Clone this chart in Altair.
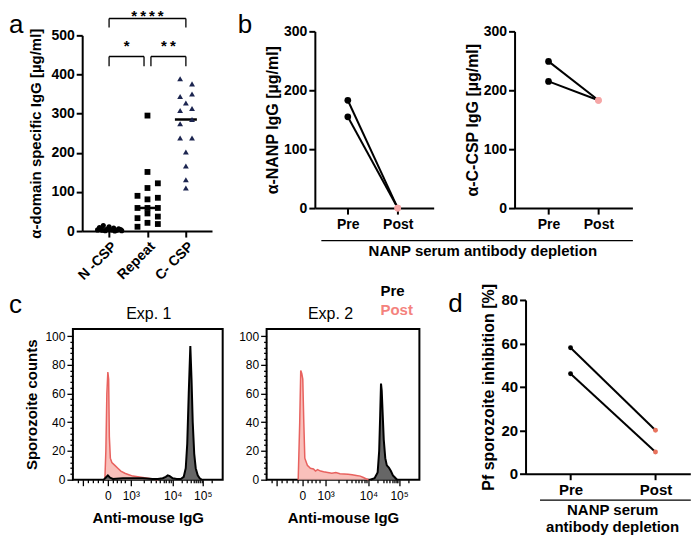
import math
import altair as alt
import pandas as pd

FONT = "Liberation Sans"

# ---------------- data ----------------
# panel a
a_categories = ["N -CSP", "Repeat", "C- CSP"]
ncsp_values = [14, 11, 9, 8, 6, 5, 4, 3, 3, 2, 2, 1, 1, 0]
ncsp_jitter = [-0.15, 0.0, -0.25, 0.12, 0.25, -0.05, 0.3, -0.3, 0.08, -0.18, 0.2, 0.33, -0.1, 0.15]
repeat_values = [295, 151, 122, 110, 90, 85, 81, 59, 59, 59, 45, 37, 33, 21, 18, 11]
repeat_jitter = [0, 0, 0.27, 0, -0.26, 0.27, 0, -0.26, 0, 0.27, 0, 0.27, -0.26, 0, 0.27, -0.26]
ccsp_values = [389, 376, 350, 344, 327, 313, 308, 285, 274, 238, 238, 202, 166, 131, 110]
ccsp_jitter = [-0.15, 0.16, 0.16, -0.15, 0, 0.16, -0.15, 0.16, -0.15, -0.15, 0.16, 0, 0, 0, 0]
sig_from = ["N -CSP", "Repeat", "N -CSP"]
sig_to = ["Repeat", "C- CSP", "C- CSP"]
sig_label = ["*", "**", "****"]

# panel b
stages = ["Pre", "Post"]
nanp_pre = [183, 155]
nanp_post = [0, 0]
cterm_pre = [249, 215]
cterm_post = [183, 183]

# panel c (x in display units of the biexponential axis)
c_tick_labels = ["0", "10³", "10⁴", "10⁵"]
c_tick_pos = [35, 58, 100, 130]
exp1_post_x = [32, 33, 34, 35, 35.8, 36.5, 37.5, 39, 42, 45, 48, 52, 56, 60, 65, 70, 75, 80, 85]
exp1_post_y = [0, 20, 60, 75, 70, 30, 15, 12, 10, 8, 6, 4.5, 3.5, 2.5, 2, 1.5, 1, 0.5, 0]
exp1_pre_x = [31, 33, 35, 37, 40, 50, 60, 70, 80, 85, 90, 93, 95, 97, 100, 104, 108, 111, 113,
              114.5, 116, 117.6, 118.8, 120, 121.5, 123, 125, 127, 129]
exp1_pre_y = [0, 1.5, 3, 1.5, 0.5, 1, 1, 1, 0.5, 0.5, 1, 2, 3, 2.5, 1, 0.5, 0.5, 2, 8,
              25, 60, 93, 70, 40, 18, 8, 3, 1, 0]
exp2_post_x = [31, 32.5, 33.5, 34.5, 35.5, 36.5, 37.5, 40, 43, 46, 48, 50, 53, 56, 60, 64, 68,
               72, 76, 80, 84, 88, 92, 95, 98, 100]
exp2_post_y = [0, 40, 76, 74, 70, 40, 15, 10, 8, 7.5, 6, 7, 6, 5.5, 5, 4.5, 5,
               4.2, 4, 3.8, 3.5, 3, 2.5, 1.5, 0.5, 0]
exp2_pre_x = [102, 106, 109, 110.5, 111.5, 112.3, 113, 114, 115, 116.5, 118, 120, 122, 124, 126, 128]
exp2_pre_y = [0, 1, 5, 20, 45, 67, 62, 45, 28, 15, 10, 8.5, 6, 3, 1.5, 0]

# panel d
inhib_pre = [58, 46]
inhib_post = [20, 10]


# ---------------- helpers ----------------
def note(text, x, y, size, weight="normal", color="black", align="left"):
    return alt.Chart(pd.DataFrame({"t": [text]})).mark_text(
        font=FONT, fontSize=size, fontWeight=weight, color=color, align=align,
        baseline="alphabetic").encode(x=alt.value(x), y=alt.value(y), text="t:N")


# ---------------- panel a ----------------
rows = []
for gi, (vals, jit) in enumerate([(ncsp_values, ncsp_jitter),
                                  (repeat_values, repeat_jitter),
                                  (ccsp_values, ccsp_jitter)]):
    for v, j in zip(vals, jit):
        rows.append({"group": a_categories[gi], "idx": gi, "pos": gi + j, "value": v})
pts = pd.DataFrame(rows)

BAR = [446, 543]
FOOT = [421, 520]
TXT = [459, 536]
GAP = 0.09
segs, texts = [], []
for f, t, lab in zip(sig_from, sig_to, sig_label):
    i0, i1 = a_categories.index(f), a_categories.index(t)
    lvl = 1 if i1 - i0 > 1 else 0
    x0 = i0 + (GAP if lvl == 0 and i0 == 1 else 0)
    x1 = i1 - (GAP if lvl == 0 and i1 == 1 else 0)
    segs += [(x0, x1, BAR[lvl], BAR[lvl]), (x0, x0, BAR[lvl], FOOT[lvl]), (x1, x1, BAR[lvl], FOOT[lvl])]
    texts.append(((x0 + x1) / 2, TXT[lvl], "\u2009".join(lab)))
seg_df = pd.DataFrame(segs, columns=["pos", "pos2", "value", "value2"])
txt_df = pd.DataFrame(texts, columns=["pos", "value", "label"])

a_xs = alt.Scale(domain=[-0.7, 2.68], range=[9.3, 139.3], nice=False, zero=False)
a_ys = alt.Scale(domain=[0, 500], range=[200, 4], nice=False)
lbl_a = "[" + ",".join("'" + c + "'" for c in a_categories) + "][datum.value]"
a_xaxis = alt.Axis(values=[0, 1, 2], labelExpr=lbl_a, labelAngle=-45, labelAlign="right",
                   labelBaseline="top", labelFontSize=14, labelFontWeight="bold", labelPadding=2,
                   labelOverlap=False, labelFlush=False, tickSize=6, tickWidth=2, domainWidth=2,
                   offset=23, title=None)
a_yaxis = alt.Axis(values=[0, 100, 200, 300, 400, 500], offset=-9.3, labelFontSize=14,
                   labelFontWeight="bold", labelPadding=2, tickSize=6, tickWidth=2, domainWidth=2,
                   titleFontSize=15, titleFontWeight="bold", titlePadding=7,
                   title="α-domain specific IgG [µg/ml]")

a_med = alt.Chart(pts).mark_tick(orient="horizontal", size=22, thickness=2.5, color="black").encode(
    x=alt.X("idx:Q", scale=a_xs, axis=a_xaxis),
    y=alt.Y("median(value):Q", scale=a_ys, axis=a_yaxis))


def a_layer(group, shape, size, color):
    return alt.Chart(pts).transform_filter(alt.datum.group == group).mark_point(
        shape=shape, size=size, filled=True, color=color, opacity=1).encode(
        x=alt.X("pos:Q", scale=a_xs, axis=a_xaxis), y=alt.Y("value:Q", scale=a_ys, axis=a_yaxis))


a_br = alt.Chart(seg_df).mark_rule(color="black", strokeWidth=1.3).encode(
    x=alt.X("pos:Q", scale=a_xs, axis=a_xaxis), x2="pos2:Q",
    y=alt.Y("value:Q", scale=a_ys, axis=a_yaxis), y2="value2:Q")
a_txt = alt.Chart(txt_df).mark_text(font=FONT, fontSize=15, fontWeight="bold", baseline="alphabetic").encode(
    x=alt.X("pos:Q", scale=a_xs, axis=a_xaxis), y=alt.Y("value:Q", scale=a_ys, axis=a_yaxis),
    text="label:N")

panel_a = alt.layer(
    a_med,
    a_layer(a_categories[0], "circle", 26, "black"),
    a_layer(a_categories[1], "square", 34, "black"),
    a_layer(a_categories[2], "triangle-up", 34, "#1c2550"),
    a_br, a_txt,
    note("a", -64, 2, 26),
).properties(width=150, height=177)

# ---------------- paired panels (b, d) ----------------
lbl_st = "[" + ",".join("'" + s + "'" for s in stages) + "][datum.value]"


def paired(pre, post, post_color, dot_size, ytitle, ydom, yvals, yrange, width, xdom, xrange,
           yoff, xoff, lab_fs, title_fs, tpad, aux_range, aux_offset, aux_title, aux_title_x,
           notes, height):
    r = []
    for s in range(len(pre)):
        r.append({"subject": s, "stage": 0, "value": pre[s]})
        r.append({"subject": s, "stage": 1, "value": post[s]})
    df = pd.DataFrame(r)
    xs = alt.Scale(domain=xdom, range=xrange, nice=False, zero=False)
    ys = alt.Scale(domain=ydom, range=yrange, nice=False)
    xax = alt.Axis(values=[0, 1], labelExpr=lbl_st, labelFontSize=lab_fs, labelFontWeight="bold",
                   labelPadding=3, tickSize=6, tickWidth=2, domainWidth=2, offset=xoff, title=None,
                   labelAngle=0)
    yax = alt.Axis(values=yvals, offset=yoff, labelFontSize=lab_fs, labelFontWeight="bold",
                   labelPadding=2, tickSize=6, tickWidth=2, domainWidth=2, titleFontSize=title_fs,
                   titleFontWeight="bold", titlePadding=tpad, title=ytitle)
    lines = alt.Chart(df).mark_line(color="black", strokeWidth=2).encode(
        x=alt.X("stage:Q", scale=xs, axis=xax), y=alt.Y("value:Q", scale=ys, axis=yax),
        detail="subject:N", order="stage:Q")
    dots = alt.Chart(df).mark_circle(size=dot_size, opacity=1).encode(
        x=alt.X("stage:Q", scale=xs, axis=xax), y=alt.Y("value:Q", scale=ys, axis=yax),
        color=alt.condition("datum.stage == 0", alt.value("black"), alt.value(post_color)))
    inner = alt.layer(lines, dots, *notes)
    if aux_title is None:
        return inner.properties(width=width, height=height)
    aux = alt.Chart(pd.DataFrame({"u": [0.5]})).mark_point(opacity=0, size=1).encode(
        x=alt.X("u:Q", scale=alt.Scale(domain=[0, 1], range=aux_range, nice=False, zero=False),
                axis=alt.Axis(orient="bottom", offset=aux_offset, ticks=False, labels=False,
                              domainWidth=1.3, domainColor="black", title=aux_title,
                              titleX=aux_title_x, titleAlign="center",
                              titleFontSize=15, titleFontWeight="bold", titlePadding=3,
                              titleLineHeight=17)))
    return alt.layer(inner, aux).resolve_scale(x="independent").properties(width=width, height=height)


panel_b1 = paired(nanp_pre, nanp_post, "#F5A6A6", 45, "α-NANP IgG [µg/ml]", [0, 300],
                  [0, 100, 200, 300], [177, 0], 153, [-0.66, 1.72], [48.3, 167.3], -48.3, 0, 14, 16, 3,
                  [54.3, 366.3], 32, "NANP serum antibody depletion", 216,
                  [note("b", -29, 2, 26)], 177)
panel_b2 = paired(cterm_pre, cterm_post, "#F5A6A6", 45, "α-C-CSP  IgG [µg/ml]", [0, 300],
                  [0, 100, 200, 300], [177, 0], 227, [-0.68, 1.68], [51.3, 169.3], -51.3, 0, 14, 16, 3,
                  None, 0, None, 0, [], 177)
panel_d = paired(inhib_pre, inhib_post, "#E8735E", 24, "Pf sporozoite inhibition [%]", [0, 80],
                 [0, 20, 40, 60, 80], [145, -29], 227, [-0.53, 1.41], [62.3, 227.3], -62.3, -6, 15, 16, 4,
                 [76.3, 227.3], 20, ["NANP serum", "antibody depletion"], 149,
                 [note("d", -15, -17, 26)], 151)

# ---------------- histogram panels (c) ----------------
minor_x = [5, 15, 20, 25, 30, 40, 44, 48, 52] + \
          [round(58 + 42 * math.log10(k), 2) for k in range(2, 10)] + \
          [round(100 + 30 * math.log10(k), 2) for k in range(2, 10)] + [139]
major_x = [10] + c_tick_pos
x_vals = sorted(set(major_x + minor_x))
lbl_c = "".join("datum.value == %s ? '%s' : " % (p, l) for p, l in zip(c_tick_pos, c_tick_labels)) + "''"
major_test_x = " || ".join("datum.value == %s" % p for p in major_x)


def hist(post_x, post_y, pre_x, pre_y, width, ytitle, notes):
    post = pd.DataFrame({"x": post_x, "y": post_y})
    pre = pd.DataFrame({"x": pre_x, "y": pre_y})
    xs = alt.Scale(domain=[0, 150], nice=False, zero=False)
    ys = alt.Scale(domain=[0, 105], nice=False)
    xax = alt.Axis(values=x_vals, labelExpr=lbl_c, labelOverlap=False, labelFlush=False,
                   tickSize={"condition": {"test": major_test_x, "value": 6}, "value": 3},
                   tickWidth=1.3, domain=False, labelFontSize=12, labelPadding=5, titleFontSize=15,
                   titleFontWeight="bold", titlePadding=9, title="Anti-mouse IgG")
    yax = alt.Axis(values=list(range(0, 101, 4)), labelExpr="datum.value % 20 == 0 ? datum.label : ''",
                   labelOverlap=False, labelFlush=False,
                   tickSize={"condition": {"test": "datum.value % 20 == 0", "value": 6}, "value": 3},
                   tickWidth=1.3, domain=False, labelFontSize=12, labelPadding=2, titleFontSize=15,
                   titleFontWeight="bold", titlePadding=5, title=ytitle)
    post_area = alt.Chart(post).mark_area(
        color="#F8B9B4", opacity=0.9, line={"color": "#E8625F", "strokeWidth": 1.5}).encode(
        x=alt.X("x:Q", scale=xs, axis=xax), y=alt.Y("y:Q", scale=ys, axis=yax))
    pre_area = alt.Chart(pre).mark_area(
        color="#666666", opacity=1, line={"color": "black", "strokeWidth": 2}).encode(
        x=alt.X("x:Q", scale=xs, axis=xax), y=alt.Y("y:Q", scale=ys, axis=yax))
    return alt.layer(post_area, pre_area, *notes).properties(
        width=width, height=151, view=alt.ViewBackground(stroke="black", strokeWidth=2))


panel_c1 = hist(exp1_post_x, exp1_post_y, exp1_pre_x, exp1_pre_y, 150, "Sporozoite counts",
                [note("Exp. 1", 76, -10, 16, align="center"), note("c", -64, -16, 26)])
panel_c2 = hist(exp2_post_x, exp2_post_y, exp2_pre_x, exp2_pre_y, 153, None,
                [note("Exp. 2", 64, -10, 16, align="center"),
                 note("Pre", 114, -33, 15, "bold", "black"),
                 note("Post", 114, -14, 15, "bold", "#F4827D")])

chart = alt.concat(
    panel_a, panel_b1, panel_b2, panel_c1, panel_c2, panel_d,
    columns=3, spacing={"row": 121, "column": 44}, bounds="flush", align="none",
).properties(
    padding=0
).configure_view(stroke="transparent").configure_axis(
    grid=False, labelFont=FONT, titleFont=FONT, labelColor="black", titleColor="black",
    domainColor="black", tickColor="black")

chart.save("out.html", embed_options={"renderer": "svg", "actions": False})
